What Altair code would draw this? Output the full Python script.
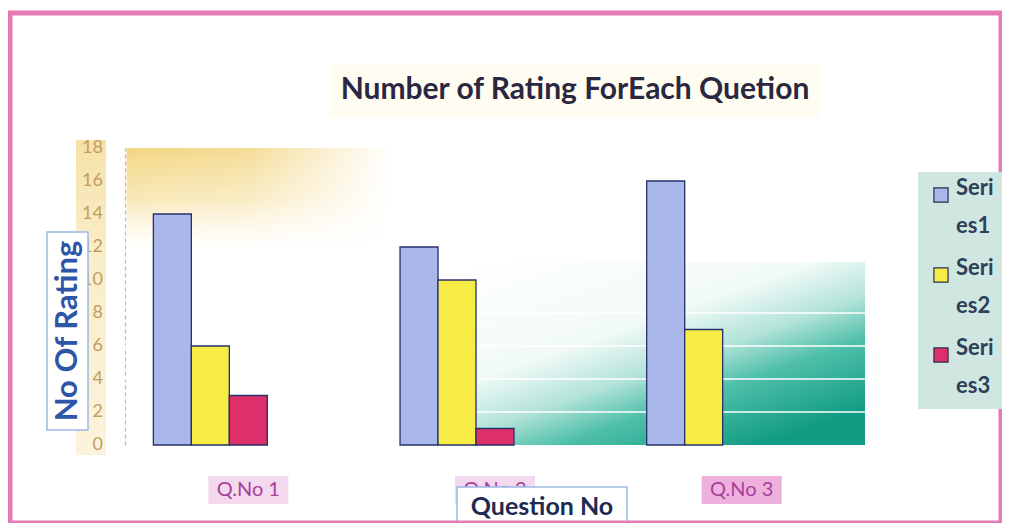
import altair as alt
import pandas as pd

# ---- data ----
questions = ["Q.No 1", "Q.No 2", "Q.No 3"]
series_names = ["Series1", "Series2", "Series3"]
series1 = [14, 12, 16]
series2 = [6, 10, 7]
series3 = [3, 1, 0]
y_ticks = [0, 2, 4, 6, 8, 10, 12, 14, 16, 18]
grid_values = [2, 4, 6, 8]

rows = []
for name, vals in zip(series_names, [series1, series2, series3]):
    for q, v in zip(questions, vals):
        rows.append({"question": q, "series": name, "value": v})
df = pd.DataFrame(rows)
qdf = pd.DataFrame({"question": questions})
tdf = pd.DataFrame({"t": y_ticks})
gdf = pd.DataFrame({"g": grid_values})
one = pd.DataFrame({"k": [0]})

FONT = "Lato"
W, H = 740, 297

xscale = alt.Scale(domain=questions, paddingInner=0.23, paddingOuter=0.115)
yscale = alt.Scale(domain=[0, 18])
yaxis = alt.Axis(labels=False, ticks=False, grid=False, title=None,
                 domainDash=[4, 3], domainColor="#e6a3b8", domainWidth=1.2)


def X(f):
    return alt.X(f, type="nominal", scale=xscale, axis=None)


def Y(f):
    return alt.Y(f, type="quantitative", scale=yscale, axis=yaxis)


def box(x, x2, y, y2, **kw):
    return alt.Chart(one).mark_rect(**kw).encode(
        x=alt.value(x), x2=alt.value(x2), y=alt.value(y), y2=alt.value(y2))


def label(txt, x, y, **kw):
    return alt.Chart(one).mark_text(text=txt, font=FONT, **kw).encode(
        x=alt.value(x), y=alt.value(y))


# decorative backgrounds
strip = box(-49, -19, -8, 307, fill={
    "gradient": "linear", "x1": 0, "y1": 0, "x2": 0, "y2": 1,
    "stops": [{"offset": 0, "color": "#f6e2a8"},
              {"offset": 0.35, "color": "#f9edc9"},
              {"offset": 1, "color": "#fbf3dc"}]})
yellow_v = box(1.5, 265, 0, 100, fill={
    "gradient": "linear", "x1": 0, "y1": 0, "x2": 0, "y2": 1,
    "stops": [{"offset": 0, "color": "rgba(243,214,130,1)"},
              {"offset": 0.5, "color": "rgba(246,225,160,0.75)"},
              {"offset": 1, "color": "rgba(250,236,190,0)"}]})
yellow_h = box(1.5, 265, 0, 100, fill={
    "gradient": "linear", "x1": 0, "y1": 0, "x2": 1, "y2": 0,
    "stops": [{"offset": 0, "color": "rgba(255,255,255,0)"},
              {"offset": 0.45, "color": "rgba(255,255,255,0.15)"},
              {"offset": 1, "color": "rgba(255,255,255,1)"}]})
teal = box(345, 740, 114, 297, fill={
    "gradient": "linear", "x1": 0, "y1": 0, "x2": 0.75, "y2": 1,
    "stops": [{"offset": 0, "color": "#ffffff"},
              {"offset": 0.42, "color": "#f1faf8"},
              {"offset": 0.6, "color": "#b3e3d9"},
              {"offset": 0.75, "color": "#4ebfa9"},
              {"offset": 1, "color": "#109b82"}]})
title_bg = box(205, 695, -83, -31, fill="#fffdf2")

grid = alt.Chart(gdf).mark_rule(color="white", strokeWidth=1.5).encode(y=Y("g"))

bars = alt.Chart(df).transform_filter("datum.value > 0").mark_bar(
    stroke="#27306a", strokeWidth=1.3).encode(
    x=X("question"),
    xOffset=alt.XOffset("series:N", scale=alt.Scale(
        domain=series_names + ["_a", "_b"], paddingInner=0, paddingOuter=0)),
    y=Y("value"),
    color=alt.Color("series:N", scale=alt.Scale(
        domain=series_names, range=["#a9b7ea", "#f7ec45", "#dd2f6a"]),
        legend=alt.Legend(
            orient="none", legendX=793, legendY=24, title=None,
            symbolType="square", symbolSize=200,
            symbolStrokeColor="#2a2f50", symbolStrokeWidth=1.2,
            labelFont=FONT, labelFontSize=22, labelFontWeight="bold",
            labelColor="#2c3e5a", labelBaseline="alphabetic",
            labelExpr="[substring(datum.label,0,4), substring(datum.label,4)]",
            labelLimit=80, fillColor="#cfe6e1", padding=12, rowPadding=20,
        )),
)

ylabels = alt.Chart(tdf).mark_text(
    font=FONT, fontSize=18, color="#c49c60", align="right", baseline="middle"
).encode(y=Y("t"), x=alt.value(-22), text="t:Q")

hl = alt.Chart(qdf).mark_bar(size=80).encode(
    x=X("question"), y=alt.value(328), y2=alt.value(356),
    color=alt.condition(alt.datum.question == "Q.No 3",
                        alt.value("#eeb0dc"), alt.value("#f4d8ee")))
xlabels = alt.Chart(qdf).mark_text(
    font=FONT, fontSize=20, color="#a8409a", baseline="middle"
).encode(x=X("question"), y=alt.value(342), text="question:N")

ybox = box(-78, -37, 84, 282, fill="white", stroke="#9cb9e4", strokeWidth=1.5)
ytitle = label("No Of Rating", -57, 183, angle=270, fontSize=31,
               fontWeight="bold", color="#2d55a8", align="center", baseline="middle")
xbox = box(332, 502, 339, 395, fill="white", stroke="#9cb9e4", strokeWidth=1.5)
xtitle = label("Question No", 417, 359, fontSize=25, fontWeight="bold",
               color="#1f2a52", align="center", baseline="middle")
title = label("Number of Rating ForEach Quetion", 450, -58, fontSize=30,
              fontWeight="bold", color="#2b2741", align="center", baseline="middle")
border = box(-115, 876, -135, 375, fill="white", fillOpacity=0,
             stroke="#e57ab5", strokeWidth=5)

chart = alt.layer(
    strip, yellow_v, yellow_h, teal, title_bg, grid, bars, ylabels, hl, xlabels,
    ybox, ytitle, xbox, xtitle, title, border
).properties(
    width=W, height=H,
    autosize=alt.AutoSizeParams(type="none"),
    padding={"left": 117, "top": 140, "right": 137, "bottom": 78},
    background="white",
).configure(
    style={"guide-label": {"lineHeight": 38}}
).configure_view(stroke=None)

chart.save("out.html", embed_options={"renderer": "svg", "actions": False})
